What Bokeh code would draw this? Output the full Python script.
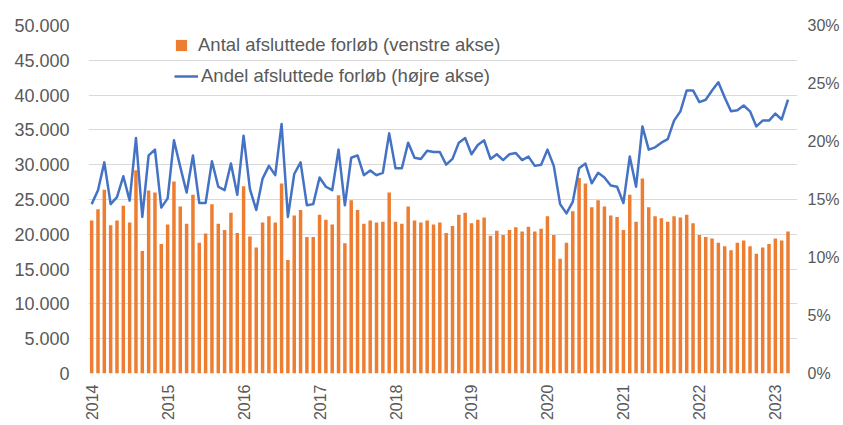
import math
from bokeh.plotting import figure
from bokeh.models import ColumnDataSource, LinearAxis, Range1d, FixedTicker, Legend, LegendItem
from bokeh.embed import file_html
from bokeh.resources import INLINE

# Monthly data, Jan 2014 - Mar 2023
years = ["2014", "2015", "2016", "2017", "2018", "2019", "2020", "2021", "2022", "2023"]

antal = [22000, 23600, 26400, 21300, 22000, 24100, 21700, 29200, 17600, 26300, 26000, 18600,
         21400, 27600, 24000, 21500, 25700, 18800, 20100, 24300, 21500, 20600, 23100, 20200,
         26900, 19700, 18100, 21700, 22600, 21700, 27300, 16300, 22700, 23500, 19600, 19600,
         22800, 22100, 21400, 25600, 18700, 24900, 23500, 21500, 22000, 21700, 21800, 26000,
         21800, 21500, 24000, 22000, 21700, 22000, 21400, 21700, 20200, 21200, 22800, 23100,
         21600, 22100, 22400, 19800, 20500, 19900, 20600, 21000, 20400, 21100, 20400, 20800,
         22600, 19900, 16500, 18800, 23300, 28100, 27300, 23900, 24900, 24000, 22700, 22500,
         20600, 25700, 21800, 28000, 23900, 22600, 22300, 21800, 22600, 22400, 22800, 21600,
         19900, 19600, 19400, 18800, 18300, 17700, 18800, 19100, 18300, 17200, 18100, 18600,
         19400, 19100, 20400]

andel = [14.6, 15.8, 18.2, 14.6, 15.2, 17.0, 14.9, 20.3, 13.5, 18.8, 19.3, 14.3,
         15.1, 20.1, 17.8, 15.6, 18.8, 14.7, 14.7, 18.3, 16.1, 15.8, 18.1, 15.4,
         20.5, 15.9, 14.1, 16.8, 17.9, 17.1, 21.5, 13.5, 17.2, 18.2, 14.5, 14.6,
         16.9, 16.1, 15.8, 19.3, 14.5, 18.6, 18.8, 17.1, 17.5, 17.1, 17.3, 20.7,
         17.7, 17.7, 19.9, 18.6, 18.5, 19.2, 19.1, 19.1, 18.0, 18.5, 19.9, 20.3,
         18.9, 19.7, 20.1, 18.5, 18.9, 18.4, 18.9, 19.0, 18.4, 18.7, 17.9, 18.0,
         19.3, 17.9, 14.6, 13.8, 14.8, 17.7, 18.1, 16.4, 17.3, 16.9, 16.2, 16.1,
         14.7, 18.7, 16.1, 21.3, 19.3, 19.5, 19.9, 20.2, 21.8, 22.6, 24.4, 24.4,
         23.4, 23.6, 24.4, 25.1, 23.8, 22.6, 22.7, 23.1, 22.6, 21.3, 21.8, 21.8,
         22.4, 21.9, 23.6]

left_ticks = [0, 5000, 10000, 15000, 20000, 25000, 30000, 35000, 40000, 45000, 50000]
right_ticks = [0, 5, 10, 15, 20, 25, 30]

label_a = "Antal afsluttede forløb (venstre akse)"
label_b = "Andel afsluttede forløb (højre akse)"

month = list(range(len(antal)))
src = ColumnDataSource(dict(month=month, antal=antal, andel=andel))

FONT = "Liberation Sans"
TXT = "#595959"

p = figure(frame_width=709, frame_height=348, output_backend="svg", toolbar_location=None,
           x_range=Range1d(-0.5, 111.5), y_range=Range1d(0, 50000),
           min_border_left=88, min_border_top=25, min_border_right=5, min_border_bottom=5)
p.extra_y_ranges = {"pct": Range1d(0, 30)}
p.outline_line_color = None
p.background_fill_color = "white"

bars = p.vbar(x="month", top="antal", width=0.55, source=src,
              fill_color="#ED7D31", line_color=None)
line = p.line(x="month", y="andel", source=src, y_range_name="pct",
              line_color="#4472C4", line_width=2.5, line_join="round")

# left axis
ya = p.yaxis[0]
ya.ticker = FixedTicker(ticks=left_ticks)
ya.major_label_overrides = {t: f"{t:,}".replace(",", ".") for t in left_ticks}
ya.major_label_standoff = 13
ya.major_label_text_font_size = "18px"

# right axis
ra = LinearAxis(y_range_name="pct", ticker=FixedTicker(ticks=right_ticks),
                major_label_overrides={t: f"{t}%" for t in right_ticks})
ra.major_label_standoff = 4
ra.major_label_text_font_size = "16px"
p.add_layout(ra, "right")

# bottom axis
xa = p.xaxis[0]
xa.ticker = FixedTicker(ticks=[12 * i for i in range(len(years))])
xa.major_label_overrides = {12 * i: y for i, y in enumerate(years)}
xa.major_label_orientation = math.pi / 2
xa.major_label_standoff = 5
xa.major_label_text_font_size = "16px"

for ax in (ya, ra, xa):
    ax.axis_line_color = None
    ax.major_tick_line_color = None
    ax.minor_tick_line_color = None
    ax.major_label_text_font = FONT
    ax.major_label_text_color = TXT

p.xgrid.visible = False
p.ygrid.ticker = FixedTicker(ticks=left_ticks)
p.ygrid.grid_line_color = "#D9D9D9"
p.ygrid.grid_line_width = 1

def mk_legend(item, loc, gw, gh, standoff):
    lg = Legend(items=[item], location=loc, glyph_width=gw, glyph_height=gh,
                label_height=22, label_standoff=standoff, padding=0, margin=0,
                border_line_color=None, background_fill_alpha=0,
                label_text_font=FONT, label_text_font_size="18.5px",
                label_text_color=TXT)
    return lg

legA = mk_legend(LegendItem(label=label_a, renderers=[bars]), (86, 317), 14, 14, 10)
legB = mk_legend(LegendItem(label=label_b, renderers=[line]), (86, 286), 24, 22, 3)
p.add_layout(legA, "center")
p.add_layout(legB, "center")

open("out.html", "w").write(file_html(p, INLINE))
